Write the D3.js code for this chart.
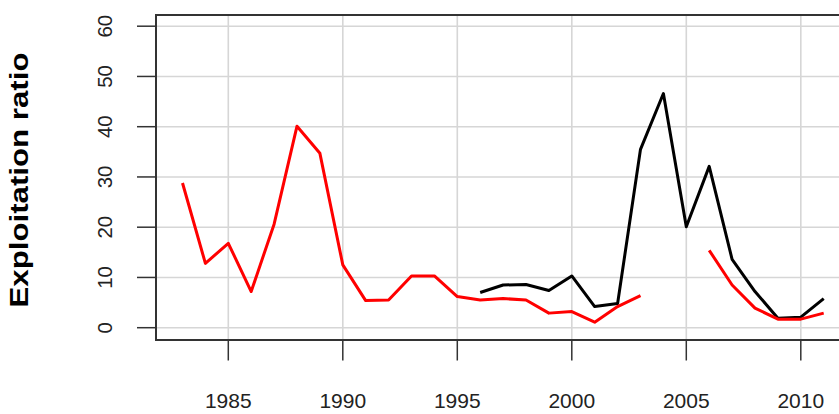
<!DOCTYPE html>
<html>
<head>
<meta charset="utf-8">
<script src="https://cdn.jsdelivr.net/npm/d3@7"></script>
<style>
  body { margin: 0; background: #fff; }
  svg text { font-family: "Liberation Sans", Arial, sans-serif; fill: #222; }
</style>
</head>
<body>
<div id="chart"></div>
<script>
// years covered by the red series (1983-2011)
var years_red = [1983, 1984, 1985, 1986, 1987, 1988, 1989, 1990, 1991, 1992,
                 1993, 1994, 1995, 1996, 1997, 1998, 1999, 2000, 2001, 2002,
                 2003, 2004, 2005, 2006, 2007, 2008, 2009, 2010, 2011];

var red_values = [28.8, 12.8, 16.8, 7.2, 20.6, 40.1, 34.7, 12.5, 5.4, 5.5,
                  10.3, 10.3, 6.2, 5.5, 5.8, 5.5, 2.9, 3.2, 1.1, 4.2,
                  6.4, null, null, 15.4, 8.5, 3.9, 1.7, 1.7, 2.9];

// years covered by the black series (1996-2011)
var years_black = [1996, 1997, 1998, 1999, 2000, 2001, 2002, 2003,
                   2004, 2005, 2006, 2007, 2008, 2009, 2010, 2011];

var black_values = [7.0, 8.5, 8.6, 7.4, 10.3, 4.2, 4.8, 35.5,
                    46.6, 20.1, 32.1, 13.6, 7.2, 1.9, 2.1, 5.8];

var x_ticks = [1985, 1990, 1995, 2000, 2005, 2010];
var y_ticks = [0, 10, 20, 30, 40, 50, 60];

var y_title = 'Exploitation ratio';

function line_chart_draw(o) {
  var W = 839, H = 414;

  var box = { left: 156, top: 15, right: 870, bottom: 340 };

  var svg = d3.select(o.container).append('svg')
    .attr('width', W)
    .attr('height', H);

  var x = d3.scaleLinear()
    .domain([1985, 2010])
    .range([228.3, 800.8]);

  var y = d3.scaleLinear()
    .domain([0, 60])
    .range([327.7, 26.2]);

  var gph = svg.append('g').attr('class', 'line-graph');

  // grid
  gph.selectAll('line.grid-x')
    .data(o.x_ticks).enter()
    .append('line')
    .attr('class', 'grid-x')
    .attr('x1', (d) => x(d)).attr('x2', (d) => x(d))
    .attr('y1', box.top).attr('y2', box.bottom)
    .style('stroke', '#d6d6d6')
    .style('stroke-width', 1.6);

  gph.selectAll('line.grid-y')
    .data(o.y_ticks).enter()
    .append('line')
    .attr('class', 'grid-y')
    .attr('x1', box.left).attr('x2', box.right)
    .attr('y1', (d) => y(d)).attr('y2', (d) => y(d))
    .style('stroke', '#d6d6d6')
    .style('stroke-width', 1.6);

  // series
  var line = d3.line()
    .defined((d) => d.v !== null)
    .x((d) => x(d.t))
    .y((d) => y(d.v));

  o.series.forEach((s) => {
    var pts = s.years.map((t, i) => ({ t: t, v: s.values[i] }));

    gph.append('path')
      .datum(pts)
      .attr('d', line)
      .style('fill', 'none')
      .style('stroke', s.color)
      .style('stroke-width', 3)
      .style('stroke-linejoin', 'round');
  });

  // box
  gph.append('rect')
    .attr('x', box.left)
    .attr('y', box.top)
    .attr('width', box.right - box.left)
    .attr('height', box.bottom - box.top)
    .style('fill', 'none')
    .style('stroke', '#333')
    .style('stroke-width', 2);

  // x axis
  gph.selectAll('line.x-tick')
    .data(o.x_ticks).enter()
    .append('line')
    .attr('class', 'x-tick')
    .attr('x1', (d) => x(d)).attr('x2', (d) => x(d))
    .attr('y1', box.bottom).attr('y2', 360.5)
    .style('stroke', '#333')
    .style('stroke-width', 1.5);

  gph.selectAll('text.x-label')
    .data(o.x_ticks).enter()
    .append('text')
    .attr('class', 'x-label')
    .attr('x', (d) => x(d))
    .attr('y', 408)
    .attr('text-anchor', 'middle')
    .style('font-size', '21px')
    .text((d) => d);

  // y axis
  gph.selectAll('line.y-tick')
    .data(o.y_ticks).enter()
    .append('line')
    .attr('class', 'y-tick')
    .attr('x1', 137).attr('x2', box.left)
    .attr('y1', (d) => y(d)).attr('y2', (d) => y(d))
    .style('stroke', '#333')
    .style('stroke-width', 1.5);

  gph.selectAll('text.y-label')
    .data(o.y_ticks).enter()
    .append('text')
    .attr('class', 'y-label')
    .attr('transform', (d) => `translate(112,${ y(d) }) rotate(-90)`)
    .attr('text-anchor', 'middle')
    .style('font-size', '20.5px')
    .text((d) => d);

  gph.append('text')
    .attr('transform', 'translate(28,180) rotate(-90)')
    .attr('text-anchor', 'middle')
    .attr('textLength', 255)
    .attr('lengthAdjust', 'spacingAndGlyphs')
    .style('font-size', '25px')
    .style('font-weight', 'bold')
    .style('fill', '#000')
    .text(o.y_title);

  return { svg: svg, graph: gph };
}

line_chart_draw({
  container: '#chart',
  x_ticks: x_ticks,
  y_ticks: y_ticks,
  y_title: y_title,
  series: [
    { years: years_black, values: black_values, color: '#000000' },
    { years: years_red, values: red_values, color: '#ff0000' }
  ]
});
</script>
</body>
</html>
